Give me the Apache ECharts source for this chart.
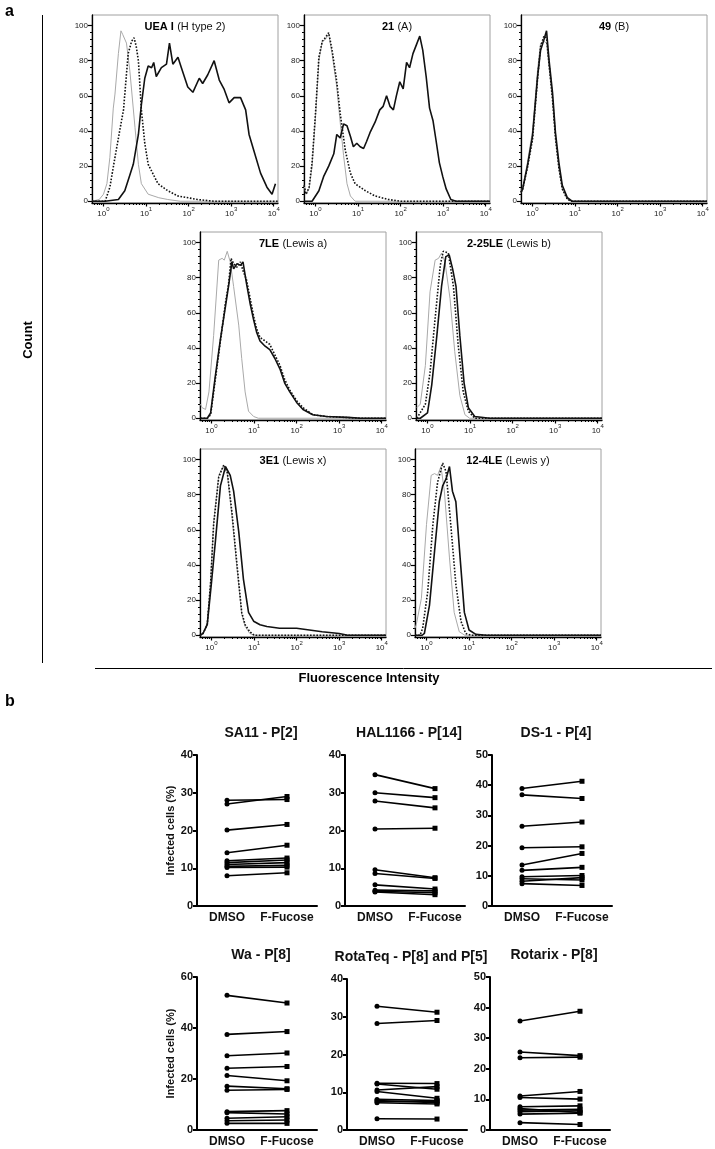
<!DOCTYPE html>
<html><head><meta charset="utf-8">
<script src="https://cdn.jsdelivr.net/npm/echarts@6/dist/echarts.min.js"></script>
<style>html,body{margin:0;padding:0;background:#fff}#c{width:715px;height:1149px}</style>
</head><body><div id="c"></div>
<script>
// ---------- Panel a: flow cytometry histograms, points are [log10(intensity), count] ----------
const ueaGray = [[-0.27,0],[-0.1,1],[0,4],[0.08,10],[0.15,25],[0.23,53],[0.27,61],[0.35,84],[0.41,97],[0.45,95],[0.49,96],[0.54,90],[0.62,74],[0.74,42],[0.82,21],[0.89,10],[1.05,4],[1.3,2],[1.51,1],[1.8,0],[4.1,0]];
const ueaDot = [[-0.27,0],[0.04,0],[0.15,8],[0.27,25],[0.38,40],[0.47,52],[0.58,84],[0.66,91],[0.72,93],[0.77,88],[0.82,80],[0.89,52],[0.97,33],[1.05,21],[1.28,10],[1.51,6],[1.75,3],[2.21,1],[2.6,0],[4.1,0]];
const ueaSolid = [[-0.27,0],[0.04,0],[0.35,1],[0.5,6],[0.58,12],[0.7,21],[0.82,38],[0.89,55],[0.97,70],[1.05,77],[1.13,76],[1.18,79],[1.24,71],[1.36,76],[1.48,78],[1.55,90],[1.63,78],[1.75,82],[1.83,76],[1.98,65],[2.1,62],[2.25,70],[2.33,67],[2.45,72],[2.6,80],[2.72,69],[2.83,64],[2.95,56],[3.07,59],[3.22,59],[3.34,52],[3.42,38],[3.53,29],[3.69,16],[3.84,8],[3.96,4],[4.04,10]];

const a21Gray = [[-0.27,9],[-0.22,4],[-0.15,7],[-0.08,20],[0,48],[0.08,80],[0.16,91],[0.23,92],[0.31,95],[0.39,84],[0.5,65],[0.58,45],[0.66,26],[0.74,10],[0.82,3],[0.93,0],[4.1,0]];
const a21Dot = [[-0.27,9],[-0.22,4],[-0.15,8],[-0.08,22],[0,50],[0.08,82],[0.16,91],[0.23,93],[0.31,96],[0.39,86],[0.5,68],[0.58,50],[0.7,29],[0.82,16],[0.93,10],[1.17,6],[1.4,3],[1.71,1],[2.0,0],[4.1,0]];
const a21Solid = [[-0.27,0],[-0.08,0],[0.08,6],[0.19,14],[0.31,20],[0.43,27],[0.5,38],[0.58,36],[0.66,44],[0.74,43],[0.82,37],[0.89,31],[0.97,33],[1.05,31],[1.13,30],[1.2,34],[1.28,39],[1.4,45],[1.51,52],[1.59,54],[1.67,60],[1.75,54],[1.83,52],[1.9,60],[1.98,68],[2.06,64],[2.14,79],[2.21,76],[2.29,84],[2.37,89],[2.45,94],[2.52,86],[2.6,71],[2.68,53],[2.76,46],[2.83,35],[2.91,22],[2.99,14],[3.07,7],[3.18,1],[3.3,0],[4.1,0]];

const b49Gray = [[-0.27,5],[-0.23,8],[-0.12,22],[0,40],[0.12,75],[0.19,90],[0.27,91],[0.33,90],[0.39,76],[0.47,58],[0.54,36],[0.62,18],[0.7,7],[0.82,1],[0.93,0],[4.1,0]];
const b49Dot = [[-0.27,5],[-0.23,7],[-0.12,19],[0,35],[0.12,70],[0.19,88],[0.27,94],[0.33,93],[0.39,78],[0.47,58],[0.54,36],[0.62,19],[0.7,7],[0.82,1],[0.93,0],[4.1,0]];
const b49Solid = [[-0.27,5],[-0.23,7],[-0.12,20],[0,37],[0.12,71],[0.19,86],[0.27,92],[0.33,97],[0.39,80],[0.47,62],[0.54,39],[0.62,22],[0.7,9],[0.82,2],[0.93,0],[4.1,0]];

const le7Gray = [[-0.26,8],[-0.22,6],[-0.14,5],[-0.06,15],[0.05,47],[0.17,90],[0.25,91],[0.3,90],[0.37,95],[0.44,89],[0.52,75],[0.64,53],[0.71,34],[0.79,15],[0.87,4],[0.99,1],[1.1,0],[4.1,0]];
const le7Dot = [[-0.26,0],[-0.1,0],[-0.02,2],[0.09,22],[0.21,44],[0.33,66],[0.4,76],[0.46,91],[0.52,88],[0.6,86],[0.68,89],[0.74,84],[0.82,79],[0.91,68],[0.99,58],[1.06,51],[1.14,46],[1.26,44],[1.37,42],[1.45,38],[1.49,37],[1.61,30],[1.72,22],[1.84,16],[2.0,10],[2.15,6],[2.38,2],[2.7,1],[3.5,0],[4.1,0]];
const le7Solid = [[-0.26,0],[-0.1,0],[-0.02,3],[0.09,24],[0.21,45],[0.33,64],[0.4,75],[0.48,89],[0.52,85],[0.6,88],[0.68,87],[0.74,89],[0.82,77],[0.91,65],[0.99,56],[1.06,49],[1.14,44],[1.26,41],[1.37,39],[1.49,34],[1.61,28],[1.72,20],[1.84,15],[2.0,9],[2.15,5],[2.38,2],[2.7,1],[3.2,0.5],[3.5,0],[4.1,0]];

const le225Gray = [[-0.25,6],[-0.17,8],[-0.05,30],[0.06,72],[0.18,90],[0.26,91],[0.33,94],[0.41,89],[0.53,68],[0.64,38],[0.76,13],[0.88,2],[0.99,0],[4.1,0]];
const le225Dot = [[-0.25,0],[-0.21,0],[-0.05,8],[0.06,26],[0.18,57],[0.3,87],[0.37,95],[0.49,94],[0.61,75],[0.72,42],[0.84,15],[0.96,4],[1.11,0],[4.1,0]];
const le225Solid = [[-0.25,0],[-0.17,0],[0.0,3],[0.1,19],[0.22,47],[0.33,75],[0.43,92],[0.51,93],[0.59,85],[0.67,75],[0.76,47],[0.86,20],[0.96,6],[1.11,1],[1.46,0],[4.1,0]];

const e31Gray = [[-0.27,0],[-0.2,1],[-0.1,7],[-0.02,32],[0.05,64],[0.17,91],[0.27,96],[0.37,92],[0.48,68],[0.6,38],[0.71,12],[0.79,5],[0.9,1],[1.0,0],[4.1,0]];
const e31Dot = [[-0.27,0],[-0.2,1],[-0.1,6],[-0.02,30],[0.05,63],[0.17,90],[0.29,97],[0.37,93],[0.48,70],[0.6,40],[0.71,13],[0.79,6],[0.9,2],[1.0,0],[4.1,0]];
const e31Solid = [[-0.27,0],[-0.2,1],[-0.1,6],[0.0,30],[0.09,53],[0.21,85],[0.33,96],[0.44,91],[0.52,82],[0.64,59],[0.75,32],[0.87,13],[0.99,8],[1.14,6],[1.3,5],[1.6,4],[2.0,4],[2.3,3],[2.6,2],[3.0,1],[3.2,0],[4.1,0]];

const le124Gray = [[-0.27,4],[-0.24,6],[-0.12,21],[0,63],[0.11,91],[0.19,92],[0.26,91],[0.34,96],[0.42,82],[0.54,44],[0.65,13],[0.77,2],[0.9,0],[4.1,0]];
const le124Dot = [[-0.27,0],[-0.15,0],[-0.09,4],[0.03,25],[0.15,63],[0.26,87],[0.38,98],[0.46,93],[0.57,63],[0.69,29],[0.81,8],[0.92,1],[1.05,0],[4.1,0]];
const le124Solid = [[-0.27,0],[-0.1,0],[-0.05,1],[0.07,17],[0.19,48],[0.3,76],[0.38,85],[0.46,89],[0.54,96],[0.61,82],[0.69,76],[0.79,44],[0.89,13],[1.0,3],[1.16,0.5],[1.4,0],[4.1,0]];

const histXTickExponents = [0, 1, 2, 3, 4];
const histYTicks = [0, 20, 40, 60, 80, 100];

// ---------- Panel b: paired infection percentages ----------
const pairCategories = ['DMSO', 'F-Fucose'];
const sa11Dmso   = [28.0, 27.0, 20.1, 14.1, 12.0, 11.5, 11.0, 10.5, 10.2, 8.0];
const sa11Fucose = [28.2, 29.0, 21.6, 16.1, 12.7, 12.2, 11.5, 10.8, 10.3, 8.8];
const halDmso    = [34.8, 30.0, 27.8, 20.4, 9.6, 8.6, 5.6, 4.2, 3.9, 3.7];
const halFucose  = [31.1, 28.7, 26.0, 20.6, 7.5, 7.3, 4.5, 4.0, 3.5, 3.0];
const ds1Dmso    = [38.9, 36.8, 26.4, 19.3, 13.6, 11.8, 9.7, 9.0, 8.2, 7.4];
const ds1Fucose  = [41.3, 35.6, 27.8, 19.6, 17.4, 12.8, 10.1, 8.6, 9.4, 6.8];
const waDmso     = [52.8, 37.5, 29.1, 24.2, 21.4, 17.2, 15.6, 7.2, 6.8, 4.6, 3.6, 2.6];
const waFucose   = [49.8, 38.6, 30.2, 24.9, 19.3, 16.2, 15.9, 7.6, 6.3, 5.2, 3.9, 2.6];
const rtqDmso    = [32.8, 28.2, 12.4, 12.2, 10.6, 10.2, 8.1, 7.8, 7.5, 7.2, 3.0];
const rtqFucose  = [31.2, 29.0, 12.3, 10.8, 11.5, 8.4, 7.8, 7.2, 7.6, 6.9, 2.9];
const rtxDmso    = [35.6, 25.5, 23.6, 11.1, 10.6, 7.6, 7.0, 6.5, 6.0, 5.2, 2.4];
const rtxFucose  = [38.8, 24.3, 23.8, 12.6, 10.1, 7.9, 5.7, 6.8, 6.3, 5.5, 1.8];

// ---------- layout / styling ----------
const FONT = '"Liberation Sans", Arial, Helvetica, sans-serif';
const HMIN = -0.27, HMAX = 4.1, HYMIN = -1, HYMAX = 106;
const histMinorX = [];
for (let d = -1; d <= 3; d++) for (let k = 2; k <= 9; k++) {
  const v = d + Math.log10(k);
  if (v > HMIN && v < HMAX) histMinorX.push(v);
}
const histMinorY = [];
for (let v = 4; v < 104; v += 4) if (v % 20 !== 0) histMinorY.push(v);

const histPanels = [
  {b:'UEA I', n:'(H type 2)', left:92, top:15, curves:[ueaGray, ueaDot, ueaSolid]},
  {b:'21', n:'(A)', left:304, top:15, curves:[a21Gray, a21Dot, a21Solid]},
  {b:'49', n:'(B)', left:521, top:15, curves:[b49Gray, b49Dot, b49Solid]},
  {b:'7LE', n:'(Lewis a)', left:200, top:232, curves:[le7Gray, le7Dot, le7Solid]},
  {b:'2-25LE', n:'(Lewis b)', left:416, top:232, curves:[le225Gray, le225Dot, le225Solid]},
  {b:'3E1', n:'(Lewis x)', left:200, top:449, curves:[e31Gray, e31Dot, e31Solid]},
  {b:'12-4LE', n:'(Lewis y)', left:415, top:449, curves:[le124Gray, le124Dot, le124Solid]}
];
const HW = 186, HH = 188;
const curveStyles = [
  {color:'#a9a9a9', width:1, type:'solid'},
  {color:'#111', width:1.6, type:'dotted'},
  {color:'#111', width:1.6, type:'solid'}
];

const grid = [], xAxis = [], yAxis = [], series = [], graphic = [];

histPanels.forEach(p => {
  grid.push({left:p.left, top:p.top, width:HW, height:HH, show:true, borderColor:'#a0a0a0', borderWidth:1, backgroundColor:'transparent'});
  const gi = grid.length - 1;
  const xi = xAxis.length, yi = yAxis.length;
  xAxis.push({gridIndex:gi, type:'value', min:HMIN, max:HMAX, position:'bottom', splitLine:{show:false},
    axisLine:{onZero:false, lineStyle:{color:'#000', width:1.3}},
    axisTick:{customValues:histXTickExponents, length:3.5, lineStyle:{color:'#000', width:1.2}},
    axisLabel:{customValues:histXTickExponents, margin:3, color:'#222', fontFamily:FONT,
      formatter: v => '{b|10}{s|' + Math.round(v) + '}',
      rich:{b:{fontSize:8, lineHeight:12, verticalAlign:'bottom', fontFamily:FONT, color:'#222'},
            s:{fontSize:6, lineHeight:12, verticalAlign:'top', fontFamily:FONT, color:'#222'}}}});
  xAxis.push({gridIndex:gi, type:'value', min:HMIN, max:HMAX, position:'bottom', splitLine:{show:false},
    axisLine:{show:false, onZero:false}, axisLabel:{show:false},
    axisTick:{customValues:histMinorX, length:2, lineStyle:{color:'#000', width:1}}});
  yAxis.push({gridIndex:gi, type:'value', min:HYMIN, max:HYMAX, position:'left', splitLine:{show:false},
    axisLine:{show:true, onZero:false, lineStyle:{color:'#000', width:1.3}},
    axisTick:{show:true, customValues:histYTicks, length:4, lineStyle:{color:'#000', width:1.2}},
    axisLabel:{customValues:histYTicks, margin:4, fontSize:8, color:'#222', fontFamily:FONT}});
  yAxis.push({gridIndex:gi, type:'value', min:HYMIN, max:HYMAX, position:'left', splitLine:{show:false},
    axisLine:{show:false, onZero:false}, axisLabel:{show:false},
    axisTick:{show:true, customValues:histMinorY, length:2, lineStyle:{color:'#000', width:1}}});
  p.curves.forEach((c, ci) => {
    series.push({type:'line', xAxisIndex:xi, yAxisIndex:yi, data:c, showSymbol:false, symbol:'none',
      lineStyle:curveStyles[ci], z:2 + ci, silent:true});
  });
  graphic.push({type:'text', x:p.left + HW / 2, y:p.top + 12, style:{
    text:'{b|' + p.b + '} {n|' + p.n + '}', align:'center', verticalAlign:'middle',
    rich:{b:{fontSize:11, fontWeight:'bold', fontFamily:FONT, fill:'#000'}, n:{fontSize:11, fontFamily:FONT, fill:'#111'}}}});
});

const pairPanels = [
  {t:'SA11 - P[2]', dm:sa11Dmso, ff:sa11Fucose, max:40, iv:10, left:197, top:755, h:151, name:true},
  {t:'HAL1166 - P[14]', dm:halDmso, ff:halFucose, max:40, iv:10, left:345, top:755, h:151},
  {t:'DS-1 - P[4]', dm:ds1Dmso, ff:ds1Fucose, max:50, iv:10, left:492, top:755, h:151},
  {t:'Wa - P[8]', dm:waDmso, ff:waFucose, max:60, iv:20, left:197, top:977, h:153, name:true},
  {t:'RotaTeq - P[8] and P[5]', dm:rtqDmso, ff:rtqFucose, max:40, iv:10, left:347, top:979, h:151},
  {t:'Rotarix - P[8]', dm:rtxDmso, ff:rtxFucose, max:50, iv:10, left:490, top:977, h:153}
];
const PW = 120;
pairPanels.forEach(p => {
  grid.push({left:p.left, top:p.top, width:PW, height:p.h});
  const gi = grid.length - 1;
  const xi = xAxis.length, yi = yAxis.length;
  xAxis.push({gridIndex:gi, type:'category', data:pairCategories, boundaryGap:true,
    axisLine:{lineStyle:{color:'#000', width:2}},
    axisTick:{alignWithLabel:true, length:4, lineStyle:{color:'#000', width:2}},
    axisLabel:{interval:0, hideOverlap:false, margin:6, fontSize:12, fontWeight:'bold', color:'#111', fontFamily:FONT}});
  yAxis.push({gridIndex:gi, type:'value', min:0, max:p.max, interval:p.iv, splitLine:{show:false},
    axisLine:{show:true, lineStyle:{color:'#000', width:2}},
    axisTick:{show:true, length:4, lineStyle:{color:'#000', width:2}},
    axisLabel:{margin:4, fontSize:11, fontWeight:'bold', color:'#111', fontFamily:FONT},
    name: p.name ? 'Infected cells (%)' : '', nameLocation:'middle', nameGap:21, nameRotate:90,
    nameTextStyle:{fontSize:11, fontWeight:'bold', color:'#111', fontFamily:FONT}});
  p.dm.forEach((v, i) => {
    series.push({type:'line', xAxisIndex:xi, yAxisIndex:yi, symbolSize:5, showSymbol:true,
      data:[{value:v, symbol:'circle'}, {value:p.ff[i], symbol:'rect'}],
      lineStyle:{color:'#000', width:1.6}, itemStyle:{color:'#000'}, silent:true});
  });
  graphic.push({type:'text', x:p.left + PW / 2 + 4, y:p.top - 22, style:{text:p.t, align:'center', verticalAlign:'middle',
    font:'bold 14px ' + FONT, fill:'#111'}});
});

// decorations
graphic.push({type:'text', x:5, y:4, style:{text:'a', font:'bold 16px ' + FONT, fill:'#000'}});
graphic.push({type:'text', x:5, y:694, style:{text:'b', font:'bold 16px ' + FONT, fill:'#000'}});
graphic.push({type:'line', shape:{x1:42.5, y1:15, x2:42.5, y2:663}, style:{stroke:'#000', lineWidth:1}});
graphic.push({type:'line', shape:{x1:95, y1:668.5, x2:712, y2:668.5}, style:{stroke:'#000', lineWidth:1}});
graphic.push({type:'text', x:28, y:340, rotation:Math.PI / 2, style:{text:'Count', align:'center', verticalAlign:'middle', font:'bold 13px ' + FONT, fill:'#000'}});
graphic.push({type:'text', x:369, y:678, style:{text:'Fluorescence Intensity', align:'center', verticalAlign:'middle', font:'bold 13px ' + FONT, fill:'#000'}});

const chart = echarts.init(document.getElementById('c'), null, {renderer:'canvas'});
chart.setOption({animation:false, backgroundColor:'#fff', grid, xAxis, yAxis, series, graphic});
</script></body></html>
